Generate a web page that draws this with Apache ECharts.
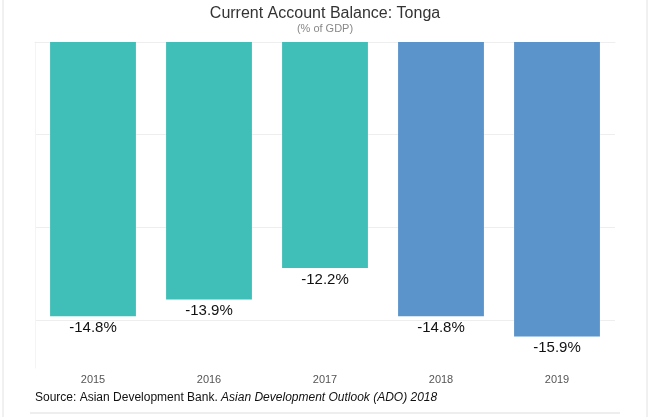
<!DOCTYPE html>
<html>
<head>
<meta charset="utf-8">
<script src="https://cdn.jsdelivr.net/npm/echarts@6/dist/echarts.min.js"></script>
<style>html,body{margin:0;padding:0;background:#fff;}#c{width:650px;height:417px;}</style>
</head>
<body>
<div id="c"></div>
<script>
const categories = ['2015', '2016', '2017', '2018', '2019'];
const values = [-14.8, -13.9, -12.2, -14.8, -15.9];
const barColors = ['#40bfb8', '#40bfb8', '#40bfb8', '#5b94ca', '#5b94ca'];
const gridValues = [0, -5, -10, -15];

const chart = echarts.init(document.getElementById('c'), null, {renderer: 'canvas'});
const FONT = '"Liberation Sans", Arial, Helvetica, sans-serif';
chart.setOption({
  animation: false,
  textStyle: {fontFamily: FONT},
  title: {
    text: 'Current Account Balance: Tonga',
    subtext: '(% of GDP)',
    left: 'center',
    top: 1,
    itemGap: 1,
    textStyle: {fontFamily: FONT, fontSize: 16, fontWeight: 'normal', color: '#333'},
    subtextStyle: {fontFamily: FONT, fontSize: 11, color: '#888'}
  },
  grid: {left: 35, right: 35, top: 42, bottom: 49},
  xAxis: {
    type: 'category',
    data: categories,
    position: 'bottom',
    axisLine: {show: true, lineStyle: {color: '#eeeeee'}},
    axisTick: {show: false},
    axisLabel: {fontFamily: FONT, fontSize: 11, color: '#555', margin: 6},
    splitLine: {show: false}
  },
  yAxis: {
    type: 'value',
    min: -17.6,
    max: 0,
    axisLine: {show: true, lineStyle: {color: '#f4f4f4'}},
    axisTick: {show: false},
    axisLabel: {show: false},
    splitLine: {show: false}
  },
  series: [{
    type: 'bar',
    data: values.map((v, i) => ({value: v, itemStyle: {color: barColors[i]}})),
    barCategoryGap: '26%',
    label: {
      show: true,
      position: 'bottom',
      distance: 4,
      formatter: p => p.value.toFixed(1) + '%',
      fontFamily: FONT,
      fontSize: 15,
      color: '#111'
    },
    markLine: {
      silent: true,
      symbol: 'none',
      label: {show: false},
      lineStyle: {color: '#eeeeee', type: 'solid', width: 1},
      data: gridValues.map(v => ({yAxis: v})),
      z: 0
    }
  }],
  graphic: [
    {
      type: 'text',
      left: 35,
      top: 392,
      style: {
        text: '{n|Source: Asian Development Bank. }{i|Asian Development Outlook (ADO) 2018}',
        rich: {
          n: {fontFamily: FONT, fontSize: 12, fill: '#111'},
          i: {fontFamily: FONT, fontSize: 12, fill: '#111', fontStyle: 'italic'}
        }
      }
    },
    {
      type: 'line',
      shape: {x1: 3, y1: 0, x2: 3, y2: 417},
      style: {stroke: '#e2e2e2', lineWidth: 1}
    },
    {
      type: 'line',
      shape: {x1: 647, y1: 0, x2: 647, y2: 417},
      style: {stroke: '#e2e2e2', lineWidth: 1}
    },
    {
      type: 'line',
      shape: {x1: 30, y1: 413, x2: 620, y2: 413},
      style: {stroke: '#eeeeee', lineWidth: 2}
    }
  ]
});
</script>
</body>
</html>
